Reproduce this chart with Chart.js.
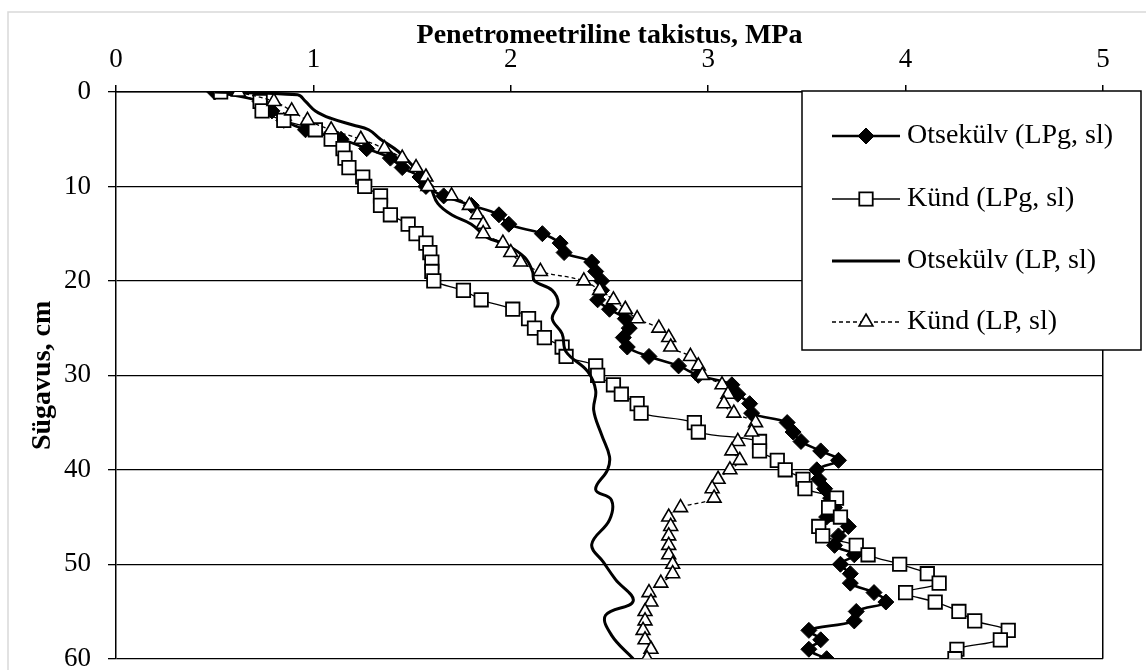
<!DOCTYPE html>
<html>
<head>
<meta charset="utf-8">
<script src="https://cdn.jsdelivr.net/npm/chart.js@4.4.1/dist/chart.umd.min.js"></script>
<style>
  html, body { margin: 0; padding: 0; background: #fff; }
  #wrap { position: relative; width: 1146px; height: 670px; }
</style>
</head>
<body>
<div id="wrap"><canvas id="depthChart" width="1146" height="670"></canvas></div>
<script>
// depth in cm, one reading per cm
const depths = [0,1,2,3,4,5,6,7,8,9,10,11,12,13,14,15,16,17,18,19,20,21,22,23,24,25,26,27,28,29,30,
  31,32,33,34,35,36,37,38,39,40,41,42,43,44,45,46,47,48,49,50,51,52,53,54,55,56,57,58,59,60];

const otsekulvLPg = [0.50,0.73,0.79,0.85,0.96,1.14,1.27,1.39,1.45,1.54,1.57,1.66,1.80,1.94,1.99,2.16,
  2.25,2.27,2.41,2.43,2.46,2.46,2.44,2.50,2.58,2.60,2.57,2.59,2.70,2.85,2.95,3.12,3.15,3.21,3.22,3.40,
  3.43,3.47,3.57,3.66,3.55,3.56,3.59,3.62,3.64,3.60,3.71,3.66,3.64,3.74,3.67,3.72,3.72,3.84,3.90,3.75,
  3.74,3.51,3.57,3.51,3.60];

const kundLPg = [0.53,0.73,0.74,0.85,1.01,1.09,1.15,1.16,1.18,1.25,1.26,1.34,1.34,1.39,1.48,1.52,
  1.57,1.59,1.60,1.60,1.61,1.76,1.85,2.01,2.09,2.12,2.17,2.26,2.28,2.43,2.44,2.52,2.56,2.64,2.66,2.93,
  2.95,3.26,3.26,3.35,3.39,3.48,3.49,3.65,3.61,3.67,3.56,3.58,3.75,3.81,3.97,4.11,4.17,4.00,4.15,4.27,
  4.35,4.52,4.48,4.26,4.25];

const kundLP = [0.62,0.80,0.89,0.97,1.09,1.24,1.36,1.45,1.52,1.57,1.58,1.70,1.79,1.83,1.86,1.86,
  1.96,2.00,2.05,2.15,2.37,2.45,2.52,2.58,2.64,2.75,2.80,2.81,2.91,2.95,2.97,3.07,3.10,3.08,3.13,3.24,
  3.22,3.15,3.12,3.16,3.11,3.05,3.02,3.03,2.86,2.80,2.81,2.80,2.80,2.80,2.82,2.82,2.76,2.70,2.71,2.68,
  2.68,2.67,2.68,2.71,2.69];

// line without markers
const otsekulvLPDepths = [0,0.3,1,2,2.8,3.5,4,5,6.3,8,10,11.8,13,14,15.4,16.1,17.5,19,20,21,22.4,24,25.6,
  27.5,29.6,31.6,33.7,36.3,38.6,40,42.1,43.2,45.3,47.9,49.8,51.6,53.9,55.4,57.5,60];
const otsekulvLP = [0.50,0.92,0.96,1.01,1.09,1.20,1.28,1.34,1.43,1.51,1.59,1.63,1.70,1.80,1.88,1.97,2.07,
  2.11,2.12,2.21,2.24,2.21,2.26,2.28,2.39,2.43,2.42,2.46,2.50,2.49,2.43,2.51,2.50,2.41,2.47,2.53,2.62,
  2.48,2.51,2.62];

const seriesNames = ['Otsekülv (LPg, sl)', 'Künd (LPg, sl)', 'Otsekülv (LP, sl)', 'Künd (LP, sl)'];

const serif = "'Liberation Serif', 'Times New Roman', serif";
const toPoints = (ys, vals) => ys.map((d, i) => ({ x: vals[i], y: d }));

const chartFrame = {
  id: 'chartFrame',
  beforeDraw(chart) {
    const ctx = chart.ctx;
    ctx.save();
    ctx.fillStyle = '#fff';
    ctx.fillRect(0, 0, chart.width, chart.height);
    ctx.strokeStyle = '#d9d9d9';
    ctx.lineWidth = 1.5;
    ctx.strokeRect(8, 12, chart.width + 10, chart.height + 10);
    ctx.restore();
  }
};

function drawMarker(ctx, style, x, y) {
  ctx.save();
  ctx.strokeStyle = '#000';
  ctx.fillStyle = style.bg;
  ctx.lineWidth = style.bw;
  ctx.setLineDash([]);
  ctx.beginPath();
  const r = style.r;
  if (style.kind === 'rectRot') {
    ctx.moveTo(x, y - r); ctx.lineTo(x + r, y); ctx.lineTo(x, y + r); ctx.lineTo(x - r, y);
  } else if (style.kind === 'rect') {
    const s = r * Math.SQRT1_2;
    ctx.rect(x - s, y - s, 2 * s, 2 * s);
  } else if (style.kind === 'triangle') {
    ctx.moveTo(x, y - r);
    ctx.lineTo(x + r * Math.sin(2 * Math.PI / 3), y - r * Math.cos(2 * Math.PI / 3));
    ctx.lineTo(x + r * Math.sin(4 * Math.PI / 3), y - r * Math.cos(4 * Math.PI / 3));
  }
  ctx.closePath();
  ctx.fill();
  ctx.stroke();
  ctx.restore();
}

const boxLegend = {
  id: 'boxLegend',
  afterDraw(chart) {
    const ctx = chart.ctx;
    const box = { left: 802, top: 91, right: 1141, bottom: 350 };
    const rows = [136, 199, 261, 322];
    ctx.save();
    ctx.fillStyle = '#fff';
    ctx.fillRect(box.left, box.top, box.right - box.left, box.bottom - box.top);
    ctx.strokeStyle = '#000';
    ctx.lineWidth = 1.5;
    ctx.strokeRect(box.left, box.top, box.right - box.left, box.bottom - box.top);
    chart.data.datasets.forEach((ds, i) => {
      const y = rows[i];
      ctx.beginPath();
      ctx.setLineDash(ds.borderDash || []);
      ctx.lineWidth = ds.borderWidth;
      ctx.strokeStyle = '#000';
      ctx.moveTo(832, y);
      ctx.lineTo(900, y);
      ctx.stroke();
      ctx.setLineDash([]);
      if (ds.pointRadius > 0) {
        drawMarker(ctx, { kind: ds.pointStyle, r: ds.pointRadius, bg: ds.pointBackgroundColor, bw: ds.pointBorderWidth }, 866, y);
      }
      ctx.fillStyle = '#000';
      ctx.font = '28px ' + serif;
      ctx.textBaseline = 'middle';
      ctx.textAlign = 'left';
      ctx.fillText(ds.label, 907, y);
    });
    ctx.restore();
  }
};

new Chart(document.getElementById('depthChart'), {
  type: 'scatter',
  data: {
    datasets: [
      {
        label: seriesNames[0],
        data: toPoints(depths, otsekulvLPg),
        showLine: true, tension: 0.4, order: 4,
        borderColor: '#000', borderWidth: 2.6,
        pointStyle: 'rectRot', pointRadius: 8, pointBorderWidth: 1,
        pointBackgroundColor: '#000', pointBorderColor: '#000'
      },
      {
        label: seriesNames[1],
        data: toPoints(depths, kundLPg),
        showLine: true, tension: 0.4, order: 3,
        borderColor: '#000', borderWidth: 1.3,
        pointStyle: 'rect', pointRadius: 9.5, pointBorderWidth: 1.8,
        pointBackgroundColor: '#fff', pointBorderColor: '#000'
      },
      {
        label: seriesNames[2],
        data: toPoints(otsekulvLPDepths, otsekulvLP),
        showLine: true, tension: 0.4, order: 2,
        borderColor: '#000', borderWidth: 3,
        pointRadius: 0
      },
      {
        label: seriesNames[3],
        data: toPoints(depths, kundLP),
        showLine: true, tension: 0.4, order: 1,
        borderColor: '#000', borderWidth: 1.3, borderDash: [4, 3],
        pointStyle: 'triangle', pointRadius: 8, pointBorderWidth: 1.6,
        pointBackgroundColor: '#fff', pointBorderColor: '#000'
      }
    ]
  },
  options: {
    responsive: false,
    animation: false,
    devicePixelRatio: 1,
    layout: { padding: { left: 0, top: 0, right: 43, bottom: 8 } },
    plugins: { legend: { display: false }, tooltip: { enabled: false } },
    scales: {
      x: {
        type: 'linear', position: 'top', min: 0, max: 5,
        afterFit: (s) => { s.height = 92; s.paddingLeft = 0; s.paddingRight = 0; },
        ticks: { stepSize: 1, color: '#000', padding: 9, font: { family: serif, size: 27 } },
        grid: {
          color: (c) => (c.tick && c.tick.value === 5) ? '#000' : 'rgba(0,0,0,0)',
          tickColor: '#000', tickLength: 7, lineWidth: 1.5
        },
        border: { color: '#000', width: 1.5 },
        title: {
          display: true, text: 'Penetromeetriline takistus, MPa', color: '#000',
          font: { family: serif, size: 28, weight: 'bold' }, padding: { top: 19, bottom: 0 }
        }
      },
      y: {
        type: 'linear', reverse: true, min: 0, max: 60,
        afterFit: (s) => { s.width = 116; s.paddingTop = 0; s.paddingBottom = 0; },
        ticks: { stepSize: 10, color: '#000', padding: 17, font: { family: serif, size: 27 } },
        grid: { color: '#000', tickColor: '#000', tickLength: 8, lineWidth: 1.3 },
        border: { color: '#000', width: 1.5 },
        title: {
          display: true, text: 'Sügavus, cm', color: '#000',
          font: { family: serif, size: 28, weight: 'bold' }, padding: { top: 26, bottom: 0 }
        }
      }
    }
  },
  plugins: [chartFrame, boxLegend]
});
</script>
</body>
</html>
